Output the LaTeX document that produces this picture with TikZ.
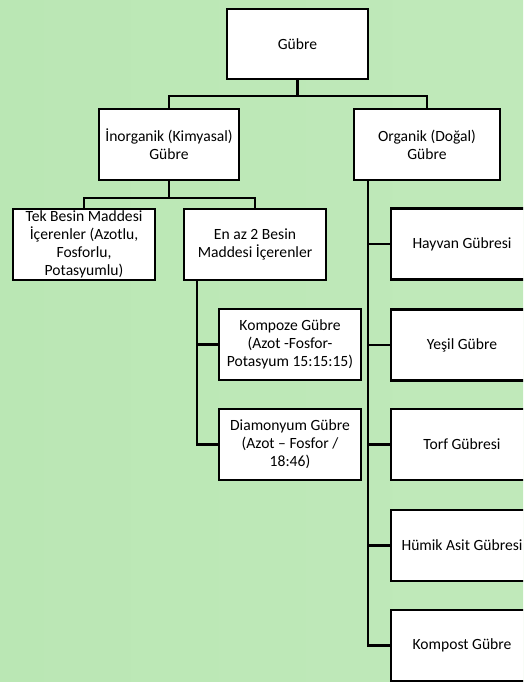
\documentclass[tikz,border=0pt]{standalone}
\usepackage{fontspec}
\setmainfont{Carlito}
\definecolor{bgleft}{RGB}{186,231,180}
\definecolor{bgmid}{RGB}{201,235,194}
\definecolor{bgright}{RGB}{192,233,186}
\begin{document}
\begin{tikzpicture}[x=1pt,y=-1pt,
  box/.style={draw,line width=2.4pt,fill=white,minimum width=142pt,minimum height=71pt,
    align=center,inner sep=1pt,font=\fontsize{15.6}{18}\selectfont},
  link/.style={line width=2.4pt}]
\useasboundingbox (0,0) rectangle (523,682);
\clip (0,0) rectangle (523,682);
\shade[left color=bgleft,middle color=bgmid,right color=bgright] (0,0) rectangle (523,682);
\node[box,minimum width=141pt,minimum height=70pt] (root) at (297.5,44) {Gübre};
\node[box,minimum width=140pt] (inorg) at (169,144.5) {İnorganik (Kimyasal)\\Gübre};
\node[box,minimum width=146pt] (org) at (427,144.5) {Organik (Doğal)\\Gübre};
\node[box] (tek) at (84,244.5) {Tek Besin Maddesi\\İçerenler (Azotlu,\\Fosforlu,\\Potasyumlu)};
\node[box] (enaz) at (255,244.5) {En az 2 Besin\\Maddesi İçerenler};
\node[box] (kompoze) at (290,344.5) {Kompoze Gübre\\(Azot -Fosfor-\\Potasyum 15:15:15)};
\node[box] (diamon) at (290,444.5) {Diamonyum Gübre\\(Azot – Fosfor /\\18:46)};
\draw[link] (root.south) -- ++(0,16) -| (inorg.north);
\draw[link] (root.south) -- ++(0,16) -| (org.north);
\draw[link] (inorg.south) -- ++(0,17) -| (tek.north);
\draw[link] (inorg.south) -- ++(0,17) -| (enaz.north);
\draw[link] ([xshift=14pt]enaz.south west) |- (kompoze.west);
\draw[link] ([xshift=14pt]enaz.south west) |- (diamon.west);
\foreach \N/\Y/\T in {hayvan/244/Hayvan Gübresi,yesil/345/Yeşil Gübre,torf/444.5/Torf Gübresi,
  humik/545.5/Hümik Asit Gübresi,kompost/645.5/Kompost Gübre}{
\node[box] (\N) at (462,\Y) {\T};
\draw[link] ([xshift=15pt]org.south west) |- (\N.west);}
\end{tikzpicture}
\end{document}
